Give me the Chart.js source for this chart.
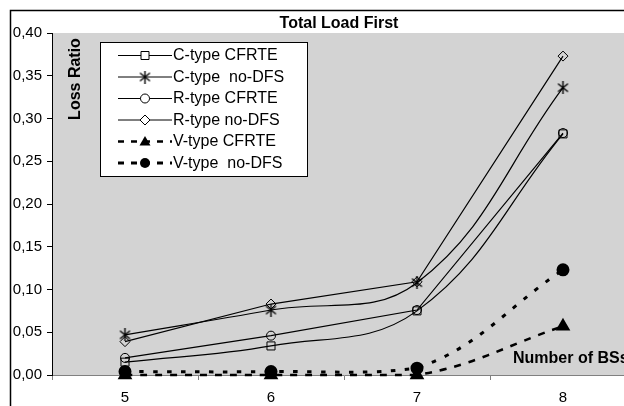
<!DOCTYPE html>
<html>
<head>
<meta charset="utf-8">
<script src="https://cdn.jsdelivr.net/npm/chart.js@4.4.1/dist/chart.umd.min.js"></script>
<style>
  html, body { margin: 0; padding: 0; background: #fff; overflow: hidden; }
  #wrap { width: 650px; height: 406px; }
</style>
</head>
<body>
<div id="wrap"><canvas id="chart" width="650" height="406"></canvas></div>
<script>
/* =============================
   DATA
============================= */
const categories = ["5", "6", "7", "8"];
const cTypeCfrte = [0.015, 0.034, 0.075, 0.282];
const cTypeNoDfs = [0.047, 0.076, 0.108, 0.336];
const rTypeCfrte = [0.020, 0.046, 0.076, 0.283];
const rTypeNoDfs = [0.039, 0.083, 0.109, 0.373];
const vTypeCfrte = [0.000, 0.000, 0.000, 0.057];
const vTypeNoDfs = [0.004, 0.004, 0.008, 0.123];
const yTicks = [0, 0.05, 0.10, 0.15, 0.20, 0.25, 0.30, 0.35, 0.40];

const seriesLabels = [
  "C-type CFRTE",
  "C-type  no-DFS",
  "R-type CFRTE",
  "R-type no-DFS",
  "V-type CFRTE",
  "V-type  no-DFS"
];

const FONT = "'Liberation Sans', Arial, sans-serif";

/* =============================
   MARKERS
============================= */
function makeStar() {
  const c = document.createElement("canvas");
  c.width = 13; c.height = 13;
  const g = c.getContext("2d");
  g.strokeStyle = "#000";
  g.lineWidth = 1.4;
  g.beginPath();
  g.moveTo(6.5, 0); g.lineTo(6.5, 13);
  g.moveTo(1.5, 2.5); g.lineTo(11.5, 10.5);
  g.moveTo(11.5, 2.5); g.lineTo(1.5, 10.5);
  g.stroke();
  return c;
}
const starImg = makeStar();

function drawMarker(ctx, kind, x, y) {
  ctx.save();
  ctx.setLineDash([]);
  ctx.strokeStyle = "#000";
  ctx.fillStyle = "#fff";
  ctx.lineWidth = 1;
  ctx.beginPath();
  if (kind === "square") {
    ctx.rect(x - 4, y - 4, 8, 8);
    ctx.fill(); ctx.stroke();
  } else if (kind === "star") {
    ctx.drawImage(starImg, x - 6.5, y - 6.5);
  } else if (kind === "circle") {
    ctx.arc(x, y, 4.5, 0, Math.PI * 2);
    ctx.fill(); ctx.stroke();
  } else if (kind === "diamond") {
    ctx.moveTo(x, y - 5); ctx.lineTo(x + 5, y); ctx.lineTo(x, y + 5); ctx.lineTo(x - 5, y);
    ctx.closePath();
    ctx.fill(); ctx.stroke();
  } else if (kind === "triangle") {
    ctx.fillStyle = "#000";
    ctx.moveTo(x, y - 5.5); ctx.lineTo(x + 5.5, y + 4); ctx.lineTo(x - 5.5, y + 4);
    ctx.closePath();
    ctx.fill();
  } else if (kind === "dot") {
    ctx.fillStyle = "#000";
    ctx.arc(x, y, 5, 0, Math.PI * 2);
    ctx.fill();
  }
  ctx.restore();
}

/* =============================
   PLUGINS
============================= */
const plotBackground = {
  id: "plotBackground",
  beforeDraw(chart) {
    const { ctx, chartArea: a } = chart;
    ctx.save();
    ctx.fillStyle = "#d3d3d3";
    ctx.fillRect(a.left, a.top, a.right - a.left, a.bottom - a.top);
    ctx.restore();
  }
};

const legendStyles = [
  { marker: "square", dash: [], width: 1 },
  { marker: "star", dash: [], width: 1 },
  { marker: "circle", dash: [], width: 1 },
  { marker: "diamond", dash: [], width: 1 },
  { marker: "triangle", dash: [6, 7], width: 2.5 },
  { marker: "dot", dash: [6, 7], width: 3 }
];

const decorations = {
  id: "decorations",
  afterDraw(chart) {
    const ctx = chart.ctx;
    ctx.save();

    // outer frame
    ctx.strokeStyle = "#000";
    ctx.lineWidth = 1.5;
    ctx.beginPath();
    ctx.moveTo(10.5, 420);
    ctx.lineTo(10.5, 10.5);
    ctx.lineTo(660, 10.5);
    ctx.stroke();

    // title and axis titles
    ctx.fillStyle = "#000";
    ctx.font = "bold 16px " + FONT;
    ctx.textAlign = "center";
    ctx.textBaseline = "middle";
    ctx.fillText("Total Load First", 339, 24);

    ctx.textAlign = "left";
    ctx.fillText("Number of BSs", 513, 359);

    ctx.save();
    ctx.translate(76, 79);
    ctx.rotate(-Math.PI / 2);
    ctx.textAlign = "center";
    ctx.fillText("Loss Ratio", 0, 0);
    ctx.restore();

    // legend box
    ctx.fillStyle = "#fff";
    ctx.fillRect(100.5, 42.5, 207, 134);
    ctx.lineWidth = 1;
    ctx.strokeStyle = "#000";
    ctx.strokeRect(100.5, 42.5, 207, 134);

    ctx.font = "16px " + FONT;
    ctx.textAlign = "left";
    ctx.textBaseline = "middle";
    seriesLabels.forEach((label, i) => {
      const y = 55.5 + i * 21.5;
      const st = legendStyles[i];
      ctx.save();
      ctx.strokeStyle = "#000";
      ctx.lineWidth = st.width;
      ctx.setLineDash(st.dash);
      ctx.beginPath();
      ctx.moveTo(118, y);
      ctx.lineTo(172, y);
      ctx.stroke();
      ctx.restore();
      drawMarker(ctx, st.marker, 145, y);
      ctx.fillStyle = "#000";
      ctx.fillText(label, 173, y + 0.5);
    });

    ctx.restore();
  }
};

/* =============================
   CHART
============================= */
const solid = (label, data, style, radius, tension) => ({
  label,
  data,
  borderColor: "#000",
  borderWidth: 1.2,
  tension,
  pointStyle: style,
  pointRadius: radius,
  pointHoverRadius: radius,
  pointBackgroundColor: "rgba(0,0,0,0)",
  pointBorderColor: "#000",
  pointBorderWidth: 1,
  clip: false
});

const ctx = document.getElementById("chart");

new Chart(ctx, {
  type: "line",
  data: {
    labels: categories,
    datasets: [
      solid(seriesLabels[0], cTypeCfrte, "rect", 5.7, 0.4),
      solid(seriesLabels[1], cTypeNoDfs, starImg, 6, 0.4),
      solid(seriesLabels[2], rTypeCfrte, "circle", 4.5, 0),
      solid(seriesLabels[3], rTypeNoDfs, "rectRot", 5, 0),
      {
        label: seriesLabels[4],
        data: vTypeCfrte,
        borderColor: "#000",
        borderWidth: 2.5,
        borderDash: [7, 8],
        tension: 0.4,
        pointStyle: "triangle",
        pointRadius: 6,
        pointBackgroundColor: "#000",
        pointBorderColor: "#000",
        clip: false
      },
      {
        label: seriesLabels[5],
        data: vTypeNoDfs,
        borderColor: "#000",
        borderWidth: 3,
        borderDash: [4.5, 9.5],
        tension: 0.4,
        pointStyle: "circle",
        pointRadius: 5,
        pointBackgroundColor: "#000",
        pointBorderColor: "#000",
        clip: false
      }
    ]
  },
  options: {
    responsive: false,
    animation: false,
    layout: { padding: { left: 10, top: 33, right: 14, bottom: 0 } },
    plugins: {
      legend: { display: false },
      title: { display: false },
      tooltip: { enabled: false }
    },
    scales: {
      x: {
        type: "category",
        offset: true,
        afterFit: s => { s.height = 31; },
        grid: {
          offset: true,
          drawOnChartArea: false,
          tickLength: 5,
          color: "#808080"
        },
        border: { color: "#808080", width: 1 },
        ticks: {
          padding: 9,
          color: "#000",
          font: { family: FONT, size: 15 }
        }
      },
      y: {
        min: 0,
        max: 0.4,
        afterFit: s => { s.width = 42; },
        afterBuildTicks: s => { s.ticks = yTicks.map(v => ({ value: v })); },
        grid: {
          drawOnChartArea: false,
          tickLength: 5,
          color: "#000"
        },
        border: { color: "#000", width: 1 },
        ticks: {
          padding: 5,
          color: "#000",
          font: { family: FONT, size: 15 },
          callback: v => v.toFixed(2).replace(".", ",")
        }
      }
    }
  },
  plugins: [plotBackground, decorations]
});
</script>
</body>
</html>
